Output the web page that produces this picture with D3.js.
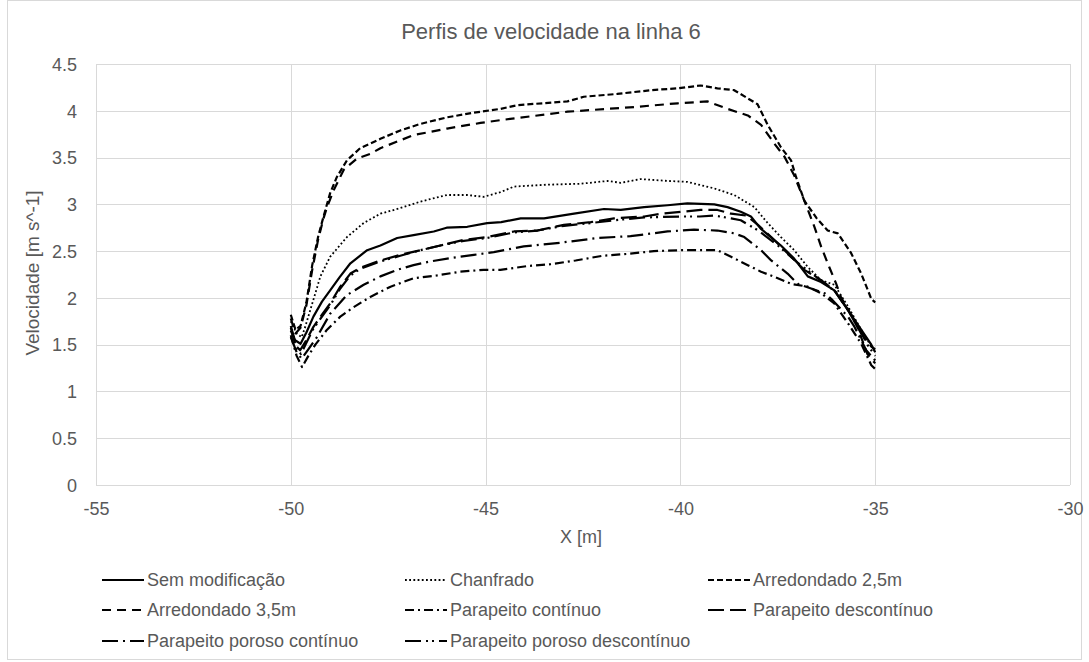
<!DOCTYPE html>
<html lang="pt">
<head>
  <meta charset="UTF-8">
  <title>Perfis de velocidade na linha 6</title>
  <style>
    body {
      margin: 0;
      background-color: #ffffff;
      font-family: "Liberation Sans", Arial, sans-serif;
    }
    text {
      fill: #595959;
    }
  </style>
</head>
<body>
  <div id="chart"></div>

  <script src="https://d3js.org/d3.v7.min.js"></script>
  <script>
    // valores: [x (m), velocidade (m/s)]
    const semModificacao = [
      [-50, 1.65], [-49.9, 1.55], [-49.75, 1.51], [-49.6, 1.63], [-49.42, 1.80], [-49.2, 1.96],
      [-48.99, 2.08], [-48.75, 2.22], [-48.47, 2.37], [-48.04, 2.51], [-47.7, 2.56], [-47.27, 2.64],
      [-46.85, 2.67], [-46.33, 2.71], [-46.0, 2.75], [-45.47, 2.76], [-44.96, 2.80], [-44.6, 2.81],
      [-44.1, 2.85], [-43.5, 2.85], [-42.73, 2.90], [-41.96, 2.95], [-41.53, 2.94], [-40.93, 2.97],
      [-40.33, 2.99], [-39.82, 3.01], [-39.13, 3.00], [-38.79, 2.97], [-38.45, 2.92], [-38.19, 2.87],
      [-37.94, 2.74], [-37.42, 2.56], [-37.08, 2.42], [-36.73, 2.23], [-36.39, 2.17], [-36.05, 2.08],
      [-35.7, 1.87], [-35.36, 1.66], [-35.1, 1.50], [-35.0, 1.42]
    ];
    const chanfrado = [
      [-50, 1.75], [-49.85, 1.62], [-49.72, 1.58], [-49.63, 1.69], [-49.5, 1.87], [-49.24, 2.23],
      [-48.99, 2.44], [-48.56, 2.65], [-48.13, 2.80], [-47.7, 2.90], [-47.19, 2.96], [-46.67, 3.03],
      [-45.99, 3.10], [-45.47, 3.10], [-45.05, 3.08], [-44.62, 3.13], [-44.27, 3.19], [-43.42, 3.21],
      [-42.56, 3.22], [-41.87, 3.25], [-41.53, 3.23], [-41.02, 3.27], [-40.33, 3.25], [-39.82, 3.24],
      [-39.13, 3.17], [-38.62, 3.10], [-38.1, 2.97], [-37.76, 2.80], [-37.42, 2.65], [-37.08, 2.51],
      [-36.73, 2.33], [-36.39, 2.19], [-36.05, 2.14], [-35.7, 1.91], [-35.36, 1.66], [-35.1, 1.48],
      [-35.0, 1.45]
    ];
    const arredondado25 = [
      [-50, 1.82], [-49.88, 1.66], [-49.75, 1.70], [-49.6, 1.95], [-49.45, 2.35], [-49.3, 2.65],
      [-49.16, 2.87], [-48.99, 3.12], [-48.82, 3.29], [-48.56, 3.47], [-48.22, 3.60], [-47.7, 3.70],
      [-47.19, 3.79], [-46.67, 3.86], [-45.99, 3.93], [-45.3, 3.98], [-44.62, 4.02], [-44.19, 4.06],
      [-42.9, 4.10], [-42.48, 4.15], [-41.62, 4.18], [-40.76, 4.22], [-40.07, 4.24], [-39.48, 4.27],
      [-39.05, 4.24], [-38.62, 4.22], [-38.02, 4.07], [-37.76, 3.85], [-37.42, 3.61], [-37.16, 3.47],
      [-37.03, 3.29], [-36.82, 3.04], [-36.5, 2.85], [-36.22, 2.72], [-35.96, 2.69], [-35.62, 2.48],
      [-35.36, 2.26], [-35.1, 1.99], [-35.0, 1.95]
    ];
    const arredondado35 = [
      [-50, 1.78], [-49.88, 1.62], [-49.75, 1.68], [-49.6, 1.92], [-49.45, 2.30], [-49.3, 2.62],
      [-49.16, 2.85], [-49.07, 2.97], [-48.9, 3.15], [-48.64, 3.37], [-48.3, 3.49], [-47.96, 3.54],
      [-47.7, 3.60], [-46.85, 3.74], [-45.99, 3.81], [-45.13, 3.87], [-44.62, 3.90], [-42.9, 3.99],
      [-41.19, 4.04], [-40.07, 4.08], [-39.3, 4.10], [-38.79, 4.02], [-38.27, 3.95], [-37.93, 3.85],
      [-37.59, 3.65], [-37.33, 3.51], [-37.08, 3.31], [-36.82, 3.04], [-36.56, 2.76], [-36.39, 2.55],
      [-36.18, 2.33], [-36.0, 2.15], [-35.88, 2.01], [-35.7, 1.88], [-35.46, 1.69], [-35.2, 1.40],
      [-35.0, 1.30]
    ];
    const parapeitoContinuo = [
      [-50, 1.60], [-49.85, 1.38], [-49.71, 1.26], [-49.55, 1.38], [-49.37, 1.50], [-49.07, 1.66],
      [-48.73, 1.80], [-48.39, 1.90], [-47.96, 2.01], [-47.44, 2.12], [-46.85, 2.21], [-46.25, 2.24],
      [-45.65, 2.28], [-45.05, 2.30], [-44.62, 2.30], [-43.93, 2.34], [-43.33, 2.36], [-42.69, 2.40],
      [-42.0, 2.45], [-41.36, 2.47], [-40.68, 2.50], [-39.99, 2.51], [-39.05, 2.51], [-38.7, 2.44],
      [-38.27, 2.35], [-37.93, 2.28], [-37.5, 2.21], [-37.16, 2.15], [-36.73, 2.12], [-36.39, 2.05],
      [-36.05, 1.94], [-35.7, 1.73], [-35.36, 1.51], [-35.1, 1.28], [-35.0, 1.24]
    ];
    const parapeitoDescontinuo = [
      [-50, 1.70], [-49.85, 1.48], [-49.76, 1.44], [-49.6, 1.55], [-49.42, 1.69], [-49.2, 1.82],
      [-48.99, 1.94], [-48.73, 2.12], [-48.47, 2.26], [-48.22, 2.32], [-47.7, 2.40], [-47.19, 2.46],
      [-46.67, 2.51], [-46.16, 2.56], [-45.56, 2.62], [-44.96, 2.65], [-44.27, 2.71], [-43.67, 2.72],
      [-42.99, 2.78], [-42.3, 2.81], [-41.7, 2.85], [-40.93, 2.87], [-40.5, 2.90], [-39.99, 2.92],
      [-39.48, 2.94], [-39.05, 2.94], [-38.7, 2.90], [-38.31, 2.88], [-38.01, 2.78], [-37.67, 2.65],
      [-37.16, 2.44], [-36.82, 2.30], [-36.39, 2.19], [-36.05, 2.08], [-35.7, 1.87], [-35.36, 1.62],
      [-35.1, 1.48], [-35.0, 1.45]
    ];
    const porosoContinuo = [
      [-50, 1.58], [-49.85, 1.42], [-49.72, 1.35], [-49.55, 1.45], [-49.33, 1.58], [-48.99, 1.83],
      [-48.56, 2.03], [-48.13, 2.14], [-47.7, 2.23], [-47.27, 2.30], [-46.85, 2.35], [-46.42, 2.39],
      [-45.82, 2.43], [-45.3, 2.46], [-44.79, 2.49], [-44.02, 2.55], [-43.07, 2.59], [-42.13, 2.64],
      [-41.28, 2.66], [-40.33, 2.71], [-39.65, 2.73], [-39.05, 2.72], [-38.62, 2.69], [-38.36, 2.65],
      [-37.93, 2.51], [-37.67, 2.40], [-37.25, 2.26], [-36.99, 2.15], [-36.3, 2.05], [-36.13, 1.99],
      [-35.7, 1.80], [-35.53, 1.69], [-35.23, 1.44], [-35.0, 1.33]
    ];
    const porosoDescontinuo = [
      [-50, 1.68], [-49.85, 1.45], [-49.74, 1.40], [-49.6, 1.52], [-49.42, 1.67], [-49.2, 1.80],
      [-48.99, 1.92], [-48.73, 2.10], [-48.47, 2.24], [-48.22, 2.31], [-47.7, 2.39], [-47.19, 2.45],
      [-46.67, 2.51], [-46.16, 2.56], [-45.56, 2.61], [-44.96, 2.64], [-44.27, 2.70], [-43.67, 2.72],
      [-42.99, 2.77], [-42.3, 2.80], [-41.7, 2.83], [-40.93, 2.86], [-39.99, 2.87], [-39.5, 2.87],
      [-39.13, 2.88], [-38.7, 2.85], [-38.45, 2.83], [-38.0, 2.72], [-37.5, 2.56], [-37.0, 2.38],
      [-36.5, 2.22], [-36.0, 2.06], [-35.5, 1.75], [-35.2, 1.50], [-35.0, 1.38]
    ];

    const seriesNames = [
      "Sem modificação", "Chanfrado", "Arredondado 2,5m",
      "Arredondado 3,5m", "Parapeito contínuo", "Parapeito descontínuo",
      "Parapeito poroso contínuo", "Parapeito poroso descontínuo"
    ];
    const seriesData = [
      semModificacao, chanfrado, arredondado25,
      arredondado35, parapeitoContinuo, parapeitoDescontinuo,
      porosoContinuo, porosoDescontinuo
    ];
    const xTicks = [-55, -50, -45, -40, -35, -30];
    const yTicks = [0, 0.5, 1, 1.5, 2, 2.5, 3, 3.5, 4, 4.5];

    // estilo de cada linha
    const dashes = [null, "1.8,2.4", "6,3", "9,6", "9,4,2,4", "16,6", "16,5,2,5", "16,5,2,4,2,5"];
    const widths = [2.2, 1.8, 2.2, 2.2, 2.2, 2.2, 2.2, 2.2];

    const width = 1089;
    const height = 662;
    const margin = { left: 96, right: 19, top: 64, bottom: 177 };

    const svg = d3.select("#chart")
      .append("svg")
      .attr("width", width)
      .attr("height", height);

    svg.append("rect")
      .attr("x", 7.5).attr("y", 0.5)
      .attr("width", 1074).attr("height", 659)
      .attr("fill", "#ffffff")
      .attr("stroke", "#d9d9d9");

    const x = d3.scaleLinear().domain([-55, -30]).range([margin.left, width - margin.right]);
    const y = d3.scaleLinear().domain([0, 4.5]).range([height - margin.bottom, margin.top]);

    // grade
    svg.append("g")
      .selectAll("line")
      .data(yTicks)
      .enter().append("line")
      .attr("x1", x(-55)).attr("x2", x(-30))
      .attr("y1", d => Math.round(y(d)) + 0.5).attr("y2", d => Math.round(y(d)) + 0.5)
      .attr("stroke", "#d9d9d9");

    svg.append("g")
      .selectAll("line")
      .data(xTicks)
      .enter().append("line")
      .attr("x1", d => Math.round(x(d)) + 0.5).attr("x2", d => Math.round(x(d)) + 0.5)
      .attr("y1", y(0)).attr("y2", y(4.5))
      .attr("stroke", "#d9d9d9");

    // eixos
    const yAxis = svg.append("g")
      .attr("transform", `translate(${margin.left - 16},0)`)
      .call(d3.axisLeft(y).tickValues(yTicks).tickSize(0).tickFormat(d => String(d)));
    yAxis.select(".domain").remove();
    yAxis.selectAll("text").style("font-size", "18px").attr("dy", "0.35em");

    const xAxis = svg.append("g")
      .attr("transform", `translate(0,${y(0) + 14})`)
      .call(d3.axisBottom(x).tickValues(xTicks).tickSize(0).tickFormat(d => String(d)));
    xAxis.select(".domain").remove();
    xAxis.selectAll("text").style("font-size", "18px");

    svg.selectAll(".tick text").style("font-family", "'Liberation Sans', Arial, sans-serif").attr("fill", "#595959");

    // títulos
    svg.append("text")
      .attr("x", 551).attr("y", 39)
      .attr("text-anchor", "middle")
      .style("font-size", "22px")
      .text("Perfis de velocidade na linha 6");

    svg.append("text")
      .attr("x", 581).attr("y", 543)
      .attr("text-anchor", "middle")
      .style("font-size", "18px")
      .text("X [m]");

    svg.append("text")
      .attr("transform", "translate(39,273) rotate(-90)")
      .attr("text-anchor", "middle")
      .style("font-size", "19px")
      .text("Velocidade [m s^-1]");

    // linhas
    const line = d3.line()
      .x(d => x(d[0]))
      .y(d => y(d[1]));

    svg.append("g")
      .selectAll("path")
      .data(seriesData)
      .enter().append("path")
      .attr("d", line)
      .attr("fill", "none")
      .attr("stroke", "#000000")
      .attr("stroke-width", (d, i) => widths[i])
      .attr("stroke-linejoin", "round")
      .attr("stroke-dasharray", (d, i) => dashes[i]);

    // legenda
    const legendCols = [102, 405, 708];
    const legendRows = [580, 610, 641];

    const legend = svg.append("g")
      .selectAll("g")
      .data(seriesNames)
      .enter().append("g")
      .attr("transform", (d, i) => `translate(${legendCols[i % 3]},${legendRows[Math.floor(i / 3)]})`);

    legend.append("line")
      .attr("x1", 0).attr("x2", 42)
      .attr("stroke", "#000000")
      .attr("stroke-width", (d, i) => widths[i])
      .attr("stroke-dasharray", (d, i) => dashes[i]);

    legend.append("text")
      .attr("x", 45)
      .attr("dy", "0.35em")
      .style("font-size", "18px")
      .text(d => d);
  </script>
</body>
</html>
